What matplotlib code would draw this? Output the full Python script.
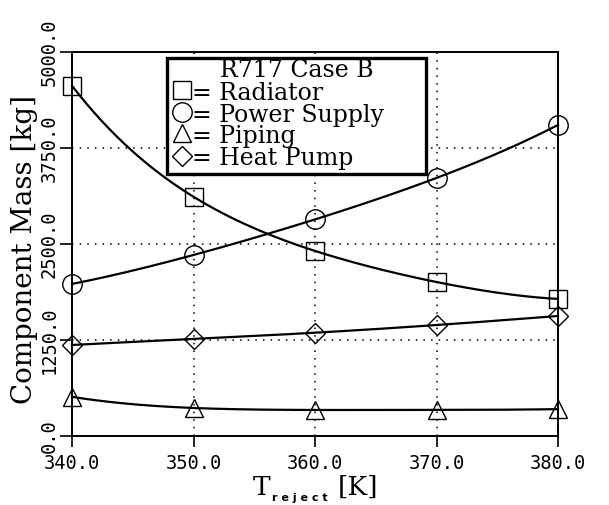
import numpy as np
import matplotlib
matplotlib.use("Agg")
import matplotlib.pyplot as plt
from matplotlib.patches import Rectangle

# ---- data ----
t_reject = [340.0, 350.0, 360.0, 370.0, 380.0]
radiator = [4560, 3115, 2410, 2005, 1785]
power_supply = [1980, 2357, 2820, 3360, 4050]
piping = [510, 365, 339, 340, 350]
heat_pump = [1185, 1263, 1345, 1445, 1563]

series_labels = ["Radiator", "Power Supply", "Piping", "Heat Pump"]
series_markers = ["s", "o", "^", "D"]
legend_title = "R717 Case B"
xticks = [340.0, 350.0, 360.0, 370.0, 380.0]
yticks = [0.0, 1250.0, 2500.0, 3750.0, 5000.0]

W, H = 609, 505
fig = plt.figure(figsize=(W / 100, H / 100), dpi=100)
ax = fig.add_axes([72 / W, 1 - 436 / H, (558 - 72) / W, (436 - 52) / H])

def smooth(x, y):
    x = np.asarray(x, float); y = np.asarray(y, float)
    c = np.polyfit(x, y, len(x) - 1)
    xs = np.linspace(x[0], x[-1], 200)
    return xs, np.polyval(c, xs)

msizes = {"s": 13, "o": 14, "^": 13, "D": 10}
for vals, m in zip([radiator, power_supply, piping, heat_pump], series_markers):
    xs, ys = smooth(t_reject, vals)
    ax.plot(xs, ys, color="black", lw=1.6, zorder=4, clip_on=False)
    ax.plot(t_reject, vals, linestyle="none", marker=m, ms=msizes[m],
            mfc="none", mec="black", mew=1.0, zorder=5, clip_on=False)

ax.set_xlim(340, 380)
ax.set_ylim(0, 5000)
ax.set_xticks(xticks)
ax.set_yticks(yticks)
ax.set_xticklabels([f"{v:.1f}" for v in xticks], family="DejaVu Sans Mono", fontsize=13.5)
ax.set_yticklabels([f"{v:.1f}" for v in yticks], family="DejaVu Sans Mono", fontsize=13.5,
                   rotation=90, va="center")
ax.tick_params(axis="x", direction="out", length=8, width=1.2, pad=5)
ax.tick_params(axis="y", direction="out", length=9, width=1.2, pad=0.5)
for s in ax.spines.values():
    s.set_linewidth(1.4)
ax.grid(True, color="black", linestyle=(0, (1, 4)), linewidth=1.1)
ax.set_axisbelow(True)

# legend box
ax.add_patch(Rectangle((0.195, 0.682), 0.533, 0.302, transform=ax.transAxes,
                       facecolor="white", edgecolor="black", lw=2.4, zorder=6))
ax.text(0.463, 0.935, legend_title, transform=ax.transAxes, ha="center", va="baseline",
        family="DejaVu Serif", fontsize=17, zorder=7)
baselines = [0.876, 0.819, 0.764, 0.706]
for lab, m, b in zip(series_labels, series_markers, baselines):
    ax.plot([0.226], [b + 0.024], marker=m, ms=msizes[m], mfc="none", mec="black",
            mew=1.0, transform=ax.transAxes, zorder=7, clip_on=False, linestyle="none")
    ax.text(0.247, b, "= " + lab, transform=ax.transAxes, ha="left", va="baseline",
            family="DejaVu Serif", fontsize=17, zorder=7)

# axis labels
fig.text(25 / W, 1 - 249 / H, "Component Mass [kg]", rotation=90, ha="center", va="center",
         family="DejaVu Serif", fontsize=20)
fig.text(253 / W, 1 - 495 / H, "T", ha="left", va="baseline", family="DejaVu Serif", fontsize=19)
fig.text(272 / W, 1 - 501 / H, "r e j e c t", ha="left", va="baseline", family="DejaVu Sans",
         fontweight="bold", fontsize=8)
fig.text(338 / W, 1 - 495 / H, "[K]", ha="left", va="baseline", family="DejaVu Serif", fontsize=19)

fig.savefig("out.png", dpi=100, facecolor="white")
